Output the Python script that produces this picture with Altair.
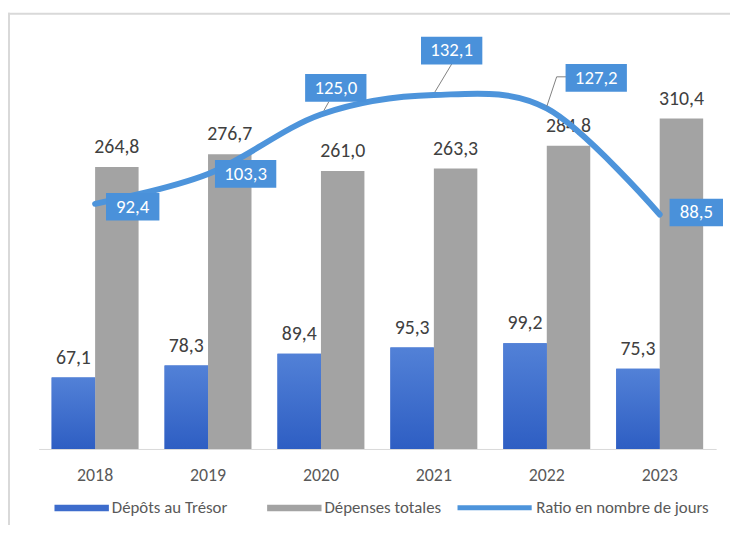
import altair as alt
import pandas as pd

years = ["2018", "2019", "2020", "2021", "2022", "2023"]
depots = [67.1, 78.3, 89.4, 95.3, 99.2, 75.3]
depenses = [264.8, 276.7, 261.0, 263.3, 284.8, 310.4]
ratio = [92.4, 103.3, 125.0, 132.1, 127.2, 88.5]
series_names = ["Dépôts au Trésor", "Dépenses totales", "Ratio en nombre de jours"]

# label placement (styling, pixels relative to the line point)
box_dx = [38, 38, 15, 18, 50, 37]
box_dy = [3, 0, -27, -45, -31, -2]
leaders = {
    "2020": "M3,-4 L8,-13",
    "2021": "M1,-3 L19,-33",
    "2022": "M0,-2 L10,-32 L20,-32",
}

FONT = "Carlito, 'Liberation Sans', Arial, sans-serif"
BLUE = "#3d6ccc"
GRAY = "#a3a3a3"
LINE = "#4d94db"
BOX = "#4a91da"


def fr(v):
    return f"{v:.1f}".replace(".", ",")


bars_df = pd.DataFrame({
    "year": years * 2,
    "serie": [series_names[0]] * len(years) + [series_names[1]] * len(years),
    "value": depots + depenses,
})
bars_df["label"] = bars_df["value"].map(fr)

ratio_df = pd.DataFrame({"year": years, "ratio": ratio})
ratio_df["label"] = ratio_df["ratio"].map(fr)
ratio_df["serie"] = series_names[2]

x_scale = alt.Scale(domain=years, paddingInner=0.23, paddingOuter=0.115)
X = alt.X(
    "year:N",
    scale=x_scale,
    axis=alt.Axis(
        title=None, labelAngle=0, ticks=False, domainColor="#d9d9d9",
        domainWidth=1, labelFontSize=18, labelColor="#595959",
        labelPadding=18, labelFont=FONT, grid=False,
    ),
)
XOFF = alt.XOffset(
    "serie:N",
    scale=alt.Scale(domain=series_names[:2], paddingInner=0, paddingOuter=0),
)
y_bar = alt.Scale(domain=[0, 391], nice=False, zero=False)
y_ratio = alt.Scale(domain=[2.9, 154.9], nice=False, zero=False)

RECTPATH = "M-1,-0.12 L1,-0.12 L1,0.12 L-1,0.12 Z"

bar_legend = alt.Legend(
    orient="none", legendX=16, legendY=453, direction="horizontal",
    title=None, symbolType=RECTPATH, symbolSize=3025, symbolStrokeWidth=0,
    labelFontSize=17, labelFont=FONT, labelColor="#595959",
    columnPadding=40, padding=0, labelOffset=3, labelLimit=300,
)
line_legend = alt.Legend(
    orient="none", legendX=421, legendY=440.5, direction="horizontal",
    title=None, symbolType="stroke", symbolSize=5625, symbolStrokeWidth=5,
    labelFontSize=17, labelFont=FONT, labelColor="#595959",
    padding=0, labelOffset=2, labelLimit=300,
)

bars = alt.Chart(bars_df).mark_bar().encode(
    x=X,
    xOffset=XOFF,
    y=alt.Y("value:Q", scale=y_bar, axis=None),
    color=alt.Color(
        "serie:N",
        scale=alt.Scale(domain=series_names[:2], range=[BLUE, GRAY]),
        legend=bar_legend,
    ),
)

blue_grad = alt.Chart(bars_df).transform_filter(
    alt.datum.serie == series_names[0]
).mark_bar(
    fill=alt.Gradient(
        gradient="linear",
        stops=[alt.GradientStop(color="#5281d7", offset=0),
               alt.GradientStop(color="#2e5ec3", offset=1)],
        x1=0, x2=0, y1=0, y2=1,
    )
).encode(
    x=X,
    xOffset=XOFF,
    y=alt.Y("value:Q", scale=y_bar, axis=None),
)

bar_text = alt.Chart(bars_df).mark_text(
    baseline="alphabetic", dy=-14, fontSize=20, color="#404040", font=FONT
).encode(
    x=X,
    xOffset=XOFF,
    y=alt.Y("value:Q", scale=y_bar, axis=None),
    text="label:N",
)

line = alt.Chart(ratio_df).mark_line(
    interpolate="cardinal", strokeWidth=6, strokeCap="round"
).encode(
    x=X,
    y=alt.Y("ratio:Q", scale=y_ratio, axis=None),
    stroke=alt.Stroke(
        "serie:N",
        scale=alt.Scale(domain=[series_names[2]], range=[LINE]),
        legend=line_legend,
    ),
)

label_layers = []
for i, yr in enumerate(years):
    base = alt.Chart(ratio_df).transform_filter(alt.datum.year == yr)
    enc = dict(x=X, y=alt.Y("ratio:Q", scale=y_ratio, axis=None))
    if yr in leaders:
        label_layers.append(
            base.mark_point(
                shape=leaders[yr], size=4, filled=False, color="#7f7f7f",
                strokeWidth=1, opacity=1,
            ).encode(**enc)
        )
    lab = fr(ratio[i])
    half = 31 if len(lab) >= 5 else 27
    dx, dy = box_dx[i], box_dy[i]
    path = (f"M{dx - half},{dy - 14} L{dx + half},{dy - 14} "
            f"L{dx + half},{dy + 14} L{dx - half},{dy + 14} Z")
    label_layers.append(
        base.mark_point(
            shape=path, size=4, filled=True, color=BOX, opacity=1, strokeWidth=0
        ).encode(**enc)
    )
    label_layers.append(
        base.mark_text(
            dx=dx, dy=dy, baseline="middle", align="center", fontSize=19,
            color="white", font=FONT,
        ).encode(text="label:N", **enc)
    )

frame_src = pd.DataFrame({"a": [0]})
frame_top = alt.Chart(frame_src).mark_rule(color="#d9d9d9", strokeWidth=2).encode(
    x=alt.value(-31), x2=alt.value(760), y=alt.value(-19)
)
frame_left = alt.Chart(frame_src).mark_rule(color="#d9d9d9", strokeWidth=2).encode(
    x=alt.value(-30), y=alt.value(-20), y2=alt.value(560)
)

chart = alt.layer(
    frame_top,
    frame_left,
    alt.layer(bars, blue_grad, bar_text),
    alt.layer(line, *label_layers),
).resolve_scale(y="independent").properties(
    width=685,
    height=421,
    padding={"left": 31, "top": 22, "right": 14, "bottom": 74},
    autosize=alt.AutoSizeParams(type="none"),
    background="white",
).configure_view(stroke=None)

chart.save("out.html", embed_options={"renderer": "svg", "actions": False})
